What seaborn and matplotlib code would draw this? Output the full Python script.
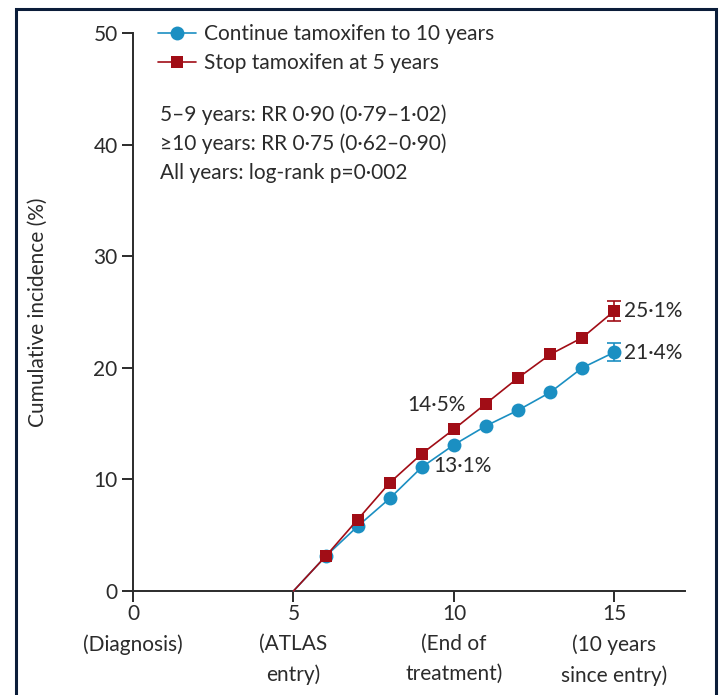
import matplotlib
matplotlib.use("Agg")
import matplotlib.pyplot as plt
import seaborn as sns
import numpy as np
import pandas as pd
from matplotlib.lines import Line2D
from matplotlib.patches import Rectangle

# Cumulative incidence (%) by years since diagnosis
years = [5, 6, 7, 8, 9, 10, 11, 12, 13, 14, 15]
continue_10y = [0.0, 3.1, 5.8, 8.3, 11.1, 13.1, 14.8, 16.2, 17.8, 20.0, 21.4]
stop_5y = [0.0, 3.1, 6.4, 9.7, 12.3, 14.5, 16.8, 19.1, 21.2, 22.7, 25.1]
err_continue_15 = 0.8
err_stop_15 = 0.9

series_names = ["Continue tamoxifen to 10 years", "Stop tamoxifen at 5 years"]
x_ticks = [0, 5, 10, 15]
x_tick_labels = ["0\n(Diagnosis)", "5\n(ATLAS\nentry)", "10\n(End of\ntreatment)",
                 "15\n(10 years\nsince entry)"]
y_ticks = [0, 10, 20, 30, 40, 50]
stats_lines = ["5–9 years: RR 0·90 (0·79–1·02)",
               "≥10 years: RR 0·75 (0·62–0·90)",
               "All years: log-rank p=0·002"]

BLUE = "#1b8fc2"
RED = "#a10d16"
INK = "#2b2b2b"

sns.set_theme(style="white")
plt.rcParams["font.family"] = ["Lato", "DejaVu Sans"]
FS = 15

fig = plt.figure(figsize=(7.21, 6.95), dpi=100)
ax = fig.add_axes([133 / 721, 1 - 591 / 695, (685 - 133) / 721, (591 - 33) / 695])

df = pd.DataFrame({"year": years, "Continue": continue_10y, "Stop": stop_5y})

sns.lineplot(data=df, x="year", y="Continue", ax=ax, color=BLUE, lw=1.2,
             marker="o", markersize=10, markeredgewidth=0,
             markevery=list(range(1, len(years))), clip_on=False, zorder=3)
sns.lineplot(data=df, x="year", y="Stop", ax=ax, color=RED, lw=1.2,
             marker="s", markersize=9, markeredgewidth=0,
             markevery=list(range(1, len(years))), clip_on=False, zorder=4)

# 95% CI at the final time point
ax.errorbar([years[-1]], [continue_10y[-1]], yerr=[err_continue_15], color=BLUE,
            capsize=5, lw=1.2, capthick=1.2, zorder=3)
ax.errorbar([years[-1]], [stop_5y[-1]], yerr=[err_stop_15], color=RED,
            capsize=5, lw=1.2, capthick=1.2, zorder=4)

ax.set_xlim(0, 17.2)
ax.set_ylim(0, 50)
ax.set_xticks(x_ticks)
ax.set_xticklabels(x_tick_labels, fontsize=FS, color=INK, linespacing=1.65)
ax.set_yticks(y_ticks)
ax.set_yticklabels([str(v) for v in y_ticks], fontsize=FS, color=INK)
ax.set_xlabel("")
ax.set_ylabel("Cumulative incidence (%)", fontsize=FS, color=INK, labelpad=33)

for side in ["top", "right"]:
    ax.spines[side].set_visible(False)
for side in ["left", "bottom"]:
    ax.spines[side].set_color(INK)
    ax.spines[side].set_linewidth(1.4)
ax.tick_params(axis="both", direction="out", length=8, width=1.4, color=INK,
               left=True, bottom=True, pad=3)
ax.tick_params(axis="x", pad=1)

# value labels
ax.text(10.35, 16.7, "14·5%", fontsize=FS, color=INK, ha="right", va="center")
ax.text(9.35, 11.2, "13·1%", fontsize=FS, color=INK, ha="left", va="center")
ax.text(15.3, 25.1, "25·1%", fontsize=FS, color=INK, ha="left", va="center")
ax.text(15.3, 21.3, "21·4%", fontsize=FS, color=INK, ha="left", va="center")

# statistics block
for i, line in enumerate(stats_lines):
    ax.text(0.84, 42.65 - i * 2.6, line, fontsize=FS, color=INK, ha="left", va="center")

handles = [
    Line2D([], [], color=BLUE, lw=1.2, marker="o", markersize=10, markeredgewidth=0),
    Line2D([], [], color=RED, lw=1.2, marker="s", markersize=9, markeredgewidth=0),
]
ax.legend(handles, series_names, loc="upper left", bbox_to_anchor=(0.027, 1.035),
          frameon=False, fontsize=FS, handlelength=1.8, handletextpad=0.4,
          labelspacing=0.45, borderpad=0, labelcolor=INK)

# outer frame
fig.patches.append(Rectangle((15.5 / 721, -0.05), (716 - 15.5) / 721, 1.05 - 8.5 / 695,
                             transform=fig.transFigure, fill=False,
                             edgecolor="#0b1d3a", lw=2.2))

fig.savefig("out.png", dpi=100)
